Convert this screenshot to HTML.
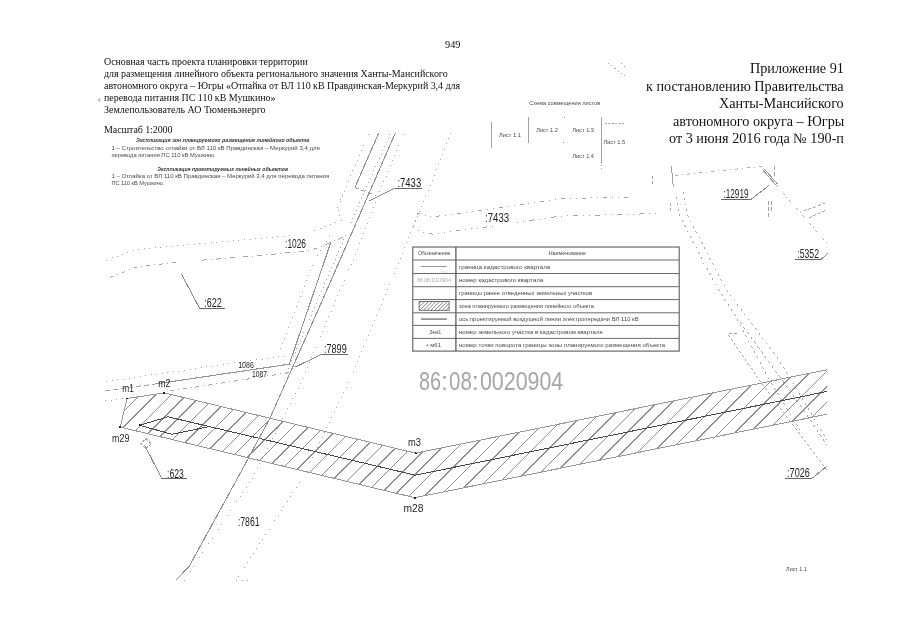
<!DOCTYPE html>
<html><head><meta charset="utf-8"><title>949</title>
<style>
html,body{margin:0;padding:0;background:#fff;}
body{width:905px;height:640px;position:relative;overflow:hidden;font-family:"Liberation Serif",serif;color:#111;}
.t{position:absolute;white-space:nowrap;will-change:transform;}
.l{font-size:10px;line-height:12px;left:103.5px;}
.r{font-size:14.2px;line-height:17.5px;right:61px;text-align:right;}
svg{position:absolute;left:0;top:0;will-change:transform;}
svg text{font-family:"Liberation Sans",sans-serif;}
</style></head><body>

<div class="t" style="left:444.5px;top:38.6px;font-size:10.3px;line-height:12px;">949</div>
<div class="t l" style="top:56.0px;letter-spacing:-0.077px;">Основная часть проекта планировки территории</div>
<div class="t l" style="top:68.1px;letter-spacing:-0.053px;">для размещения линейного объекта регионального значения Ханты-Мансийского</div>
<div class="t l" style="top:80.1px;letter-spacing:-0.043px;">автономного округа – Югры «Отпайка от ВЛ 110 кВ Правдинская-Меркурий 3,4 для</div>
<div class="t l" style="top:92.2px;letter-spacing:-0.03px;">перевода питания ПС 110 кВ Мушкино»</div>
<div class="t l" style="top:104.1px;letter-spacing:0px;">Землепользователь АО Тюменьэнерго</div>
<div class="t l" style="top:123.5px;letter-spacing:-0.1px;">Масштаб 1:2000</div>
<div class="t r" style="top:60.3px;">Приложение 91</div>
<div class="t r" style="top:77.8px;">к постановлению Правительства</div>
<div class="t r" style="top:95.3px;">Ханты-Мансийского</div>
<div class="t r" style="top:112.8px;">автономного округа – Югры</div>
<div class="t r" style="top:130.3px;">от 3 июня 2016 года № 190-п</div>
<svg width="905" height="640" viewBox="0 0 905 640" shape-rendering="crispEdges">
<defs><clipPath id="hz"><polygon points="127.1,398.2 164.4,392.6 415.6,452.9 827.3,369.4 827.3,413.9 414.7,497.4 120.2,426.8"/></clipPath>
<clipPath id="lg"><rect x="419.1" y="301.5" width="30" height="8.8"/></clipPath></defs>
<g transform="translate(0,0.3)">
<g clip-path="url(#hz)" stroke="#8e8e8e" stroke-width="1.1" shape-rendering="crispEdges">
<line x1="-16.1" y1="520" x2="143.9" y2="360"/>
<line x1="-0.7" y1="520" x2="159.3" y2="360"/>
<line x1="14.7" y1="520" x2="174.7" y2="360"/>
<line x1="30.2" y1="520" x2="190.2" y2="360"/>
<line x1="45.6" y1="520" x2="205.6" y2="360"/>
<line x1="61.0" y1="520" x2="221.0" y2="360"/>
<line x1="76.4" y1="520" x2="236.4" y2="360"/>
<line x1="91.8" y1="520" x2="251.8" y2="360"/>
<line x1="107.3" y1="520" x2="267.3" y2="360"/>
<line x1="122.7" y1="520" x2="282.7" y2="360"/>
<line x1="138.1" y1="520" x2="298.1" y2="360"/>
<line x1="153.5" y1="520" x2="313.5" y2="360"/>
<line x1="168.9" y1="520" x2="328.9" y2="360"/>
<line x1="184.4" y1="520" x2="344.4" y2="360"/>
<line x1="199.8" y1="520" x2="359.8" y2="360"/>
<line x1="215.2" y1="520" x2="375.2" y2="360"/>
<line x1="230.6" y1="520" x2="390.6" y2="360"/>
<line x1="246.0" y1="520" x2="406.0" y2="360"/>
<line x1="261.5" y1="520" x2="421.5" y2="360"/>
<line x1="276.9" y1="520" x2="436.9" y2="360"/>
<line x1="292.3" y1="520" x2="452.3" y2="360"/>
<line x1="307.7" y1="520" x2="467.7" y2="360"/>
<line x1="323.1" y1="520" x2="483.1" y2="360"/>
<line x1="338.6" y1="520" x2="498.6" y2="360"/>
<line x1="354.0" y1="520" x2="514.0" y2="360"/>
<line x1="369.4" y1="520" x2="529.4" y2="360"/>
<line x1="384.8" y1="520" x2="544.8" y2="360"/>
<line x1="400.2" y1="520" x2="560.2" y2="360"/>
<line x1="415.7" y1="520" x2="575.7" y2="360"/>
<line x1="431.1" y1="520" x2="591.1" y2="360"/>
<line x1="446.5" y1="520" x2="606.5" y2="360"/>
<line x1="461.9" y1="520" x2="621.9" y2="360"/>
<line x1="477.3" y1="520" x2="637.3" y2="360"/>
<line x1="492.8" y1="520" x2="652.8" y2="360"/>
<line x1="508.2" y1="520" x2="668.2" y2="360"/>
<line x1="523.6" y1="520" x2="683.6" y2="360"/>
<line x1="539.0" y1="520" x2="699.0" y2="360"/>
<line x1="554.4" y1="520" x2="714.4" y2="360"/>
<line x1="569.9" y1="520" x2="729.9" y2="360"/>
<line x1="585.3" y1="520" x2="745.3" y2="360"/>
<line x1="600.7" y1="520" x2="760.7" y2="360"/>
<line x1="616.1" y1="520" x2="776.1" y2="360"/>
<line x1="631.5" y1="520" x2="791.5" y2="360"/>
<line x1="647.0" y1="520" x2="807.0" y2="360"/>
<line x1="662.4" y1="520" x2="822.4" y2="360"/>
<line x1="677.8" y1="520" x2="837.8" y2="360"/>
<line x1="693.2" y1="520" x2="853.2" y2="360"/>
<line x1="708.6" y1="520" x2="868.6" y2="360"/>
<line x1="724.1" y1="520" x2="884.1" y2="360"/>
<line x1="739.5" y1="520" x2="899.5" y2="360"/>
<line x1="754.9" y1="520" x2="914.9" y2="360"/>
<line x1="770.3" y1="520" x2="930.3" y2="360"/>
</g>
<polyline points="827.3,369.4 415.6,452.9 164.4,392.6 127.1,398.2 120.2,426.8 414.7,497.4 827.3,413.9" fill="none" stroke="#969696" stroke-width="1.0" shape-rendering="crispEdges"/>
<polyline points="139.6,425.0 168.0,416.5 415.2,474.9 827.3,391.1" fill="none" stroke="#484848" stroke-width="1.0" shape-rendering="crispEdges"/>
<polyline points="139.6,425.0 172.0,434.0 207.7,426.6" fill="none" stroke="#484848" stroke-width="1.0" shape-rendering="crispEdges"/>
<circle cx="127.1" cy="398.2" r="1.1" fill="#222"/>
<circle cx="164.4" cy="392.6" r="1.1" fill="#222"/>
<circle cx="415.6" cy="452.9" r="1.1" fill="#222"/>
<circle cx="414.7" cy="497.4" r="1.1" fill="#222"/>
<circle cx="120.2" cy="426.8" r="1.1" fill="#222"/>
<circle cx="139.6" cy="425" r="1.1" fill="#222"/>
</g>
<polyline points="378.6,133.3 354.9,187.5" fill="none" stroke="#939393" stroke-width="1.1"/>
<polyline points="395.2,133.3 322.5,300.0 270.1,417.8 242.0,470.0 189.1,566.5 176.0,580.0" fill="none" stroke="#939393" stroke-width="1.1"/>
<polyline points="330.8,242.4 289.3,364.2 157.2,383.7" fill="none" stroke="#939393" stroke-width="1.1"/>
<polyline points="157.2,383.7 105.4,390.8" fill="none" stroke="#9a9a9a" stroke-width="0.9" stroke-dasharray="5 3"/>
<polyline points="354.9,187.5 376.4,195.7" fill="none" stroke="#9a9a9a" stroke-width="0.9" stroke-dasharray="4 3"/>
<polyline points="368.7,134.4 346.6,185.2 337.5,208.3" fill="none" stroke="#9a9a9a" stroke-width="0.9" stroke-dasharray="1 4.6"/>
<polyline points="390.2,133.9 365.4,189.7 334.9,260.0 286.1,373.8" fill="none" stroke="#9a9a9a" stroke-width="0.9" stroke-dasharray="1 3.4"/>
<polyline points="403.5,134.4 379.7,191.9 352.1,262.0 299.3,386.0 253.1,477.1 184.0,580.7" fill="none" stroke="#9a9a9a" stroke-width="0.9" stroke-dasharray="1 4.6"/>
<polyline points="450.7,133.0 431.7,181.5 409.3,236.5 398.9,263.0 347.0,386.0 302.9,477.1 235.9,580.7 250.0,580.7" fill="none" stroke="#9a9a9a" stroke-width="0.9" stroke-dasharray="1 4.6"/>
<polyline points="342.6,194.0 337.5,208.3 341.6,220.5 312.0,231.6" fill="none" stroke="#9a9a9a" stroke-width="0.9" stroke-dasharray="1 4.6"/>
<polyline points="330.0,236.0 314.5,260.0 280.0,349.4" fill="none" stroke="#9a9a9a" stroke-width="0.9" stroke-dasharray="1 4.6"/>
<polyline points="106.4,260.2 134.9,249.5 260.0,238.3 290.8,235.7" fill="none" stroke="#9a9a9a" stroke-width="0.9" stroke-dasharray="1 4.6"/>
<polyline points="109.5,277.3 138.9,266.3 179.6,262.3" fill="none" stroke="#9a9a9a" stroke-width="0.9" stroke-dasharray="4 4 0.9 4"/>
<polyline points="201.9,260.2 260.0,255.6 311.0,250.3 345.6,236.3" fill="none" stroke="#9a9a9a" stroke-width="0.9" stroke-dasharray="5 4 0.9 4"/>
<polyline points="106.4,381.6 238.5,362.3 285.0,356.0" fill="none" stroke="#9a9a9a" stroke-width="0.9" stroke-dasharray="1 4.6"/>
<polyline points="105.4,401.0 125.0,398.0" fill="none" stroke="#9a9a9a" stroke-width="0.9" stroke-dasharray="1 4.6"/>
<polyline points="170.0,391.0 290.0,372.5" fill="none" stroke="#9a9a9a" stroke-width="0.9" stroke-dasharray="4 4 0.9 4"/>
<polyline points="413.2,226.4 417.8,213.3 431.0,217.1 484.7,210.0 561.9,198.8 620.0,197.1 632.7,197.3" fill="none" stroke="#9a9a9a" stroke-width="0.9" stroke-dasharray="1 5 1 5 4 5"/>
<polyline points="413.2,226.4 420.1,231.8 432.5,234.1 482.8,227.4 492.8,226.2" fill="none" stroke="#9a9a9a" stroke-width="0.9" stroke-dasharray="1 5 1 5 1 5 4 5"/>
<polyline points="517.2,222.1 561.9,216.0 620.0,214.6 660.1,213.4" fill="none" stroke="#9a9a9a" stroke-width="0.9" stroke-dasharray="1 5 1 5 5 5"/>
<polyline points="671.3,166.3 673.3,186.6" fill="none" stroke="#9a9a9a" stroke-width="0.9"/>
<polyline points="675.3,175.4 762.7,166.3" fill="none" stroke="#a4a4a4" stroke-width="0.9" stroke-dasharray="3 4 1 4"/>
<polyline points="763.1,170.3 776.0,185.0" fill="none" stroke="#9a9a9a" stroke-width="1.0"/>
<polyline points="764.6,169.3 777.5,184.0" fill="none" stroke="#9a9a9a" stroke-width="1.0"/>
<polyline points="776.0,185.0 828.2,244.5" fill="none" stroke="#a4a4a4" stroke-width="0.9" stroke-dasharray="3 3 1 3"/>
<polyline points="768.2,200.8 768.2,219.1" fill="none" stroke="#9a9a9a" stroke-width="0.9" stroke-dasharray="4 2"/>
<polyline points="771.5,200.8 771.5,212.0" fill="none" stroke="#9a9a9a" stroke-width="0.9" stroke-dasharray="4 2"/>
<polyline points="774.3,166.3 774.3,176.4" fill="none" stroke="#9a9a9a" stroke-width="0.9" stroke-dasharray="4 2"/>
<polyline points="803.8,211.0 826.1,202.8" fill="none" stroke="#9a9a9a" stroke-width="0.9" stroke-dasharray="3 2"/>
<polyline points="808.9,218.1 826.1,209.9" fill="none" stroke="#9a9a9a" stroke-width="0.9" stroke-dasharray="3 2"/>
<polyline points="652.4,176.4 652.4,185.6" fill="none" stroke="#9a9a9a" stroke-width="0.9" stroke-dasharray="3 2"/>
<polyline points="670.7,203.2 670.7,213.0" fill="none" stroke="#9a9a9a" stroke-width="0.9" stroke-dasharray="3 2"/>
<polyline points="676.3,196.7 679.4,215.0 698.3,252.0 716.6,286.6 734.9,315.0 769.4,380.0 800.0,430.0" fill="none" stroke="#9a9a9a" stroke-width="0.9" stroke-dasharray="2 4"/>
<polyline points="683.5,191.7 687.5,215.0 705.4,250.0 726.7,290.6 777.5,357.7 827.0,440.0" fill="none" stroke="#9a9a9a" stroke-width="0.9" stroke-dasharray="2 4"/>
<polyline points="736.9,333.9 727.7,333.9 759.2,380.0 827.0,470.0" fill="none" stroke="#9a9a9a" stroke-width="0.9" stroke-dasharray="2.5 2.5"/>
<polyline points="740.0,322.0 800.0,405.0 827.0,445.0" fill="none" stroke="#9a9a9a" stroke-width="0.9" stroke-dasharray="3 3"/>
<polyline points="608.1,63.4 627.0,77.6" fill="none" stroke="#9a9a9a" stroke-width="0.9" stroke-dasharray="1.5 2.5"/>
<polyline points="621.0,63.4 626.0,67.4" fill="none" stroke="#9a9a9a" stroke-width="0.9" stroke-dasharray="1.5 2.5"/>
<text x="397.4" y="186.7" font-size="11.9" fill="#1e1e1e" font-weight="normal" font-style="normal" textLength="23.8" lengthAdjust="spacingAndGlyphs">:7433</text>
<polyline points="395.0,188.2 421.5,188.2" fill="none" stroke="#666" stroke-width="1.0"/>
<polyline points="395.0,188.2 369.0,201.0" fill="none" stroke="#8a8a8a" stroke-width="1.0"/>
<text x="485.1" y="221.7" font-size="11.9" fill="#1e1e1e" font-weight="normal" font-style="normal" textLength="24.0" lengthAdjust="spacingAndGlyphs">:7433</text>
<text x="285.1" y="247.9" font-size="11.9" fill="#1e1e1e" font-weight="normal" font-style="normal" textLength="20.9" lengthAdjust="spacingAndGlyphs">:1026</text>
<text x="204.3" y="307.4" font-size="11.9" fill="#1e1e1e" font-weight="normal" font-style="normal" textLength="17.5" lengthAdjust="spacingAndGlyphs">:622</text>
<polyline points="199.9,308.8 224.9,308.8" fill="none" stroke="#666" stroke-width="1.0"/>
<polyline points="199.9,308.8 181.6,274.4" fill="none" stroke="#8a8a8a" stroke-width="1.0"/>
<text x="324.0" y="352.7" font-size="11.9" fill="#1e1e1e" font-weight="normal" font-style="normal" textLength="22.7" lengthAdjust="spacingAndGlyphs">:7899</text>
<polyline points="321.5,354.2 347.7,354.2" fill="none" stroke="#666" stroke-width="1.0"/>
<polyline points="321.5,354.2 295.5,367.0" fill="none" stroke="#8a8a8a" stroke-width="1.0"/>
<text x="167.0" y="477.6" font-size="11.9" fill="#1e1e1e" font-weight="normal" font-style="normal" textLength="16.7" lengthAdjust="spacingAndGlyphs">:623</text>
<polyline points="162.0,478.9 187.4,478.9" fill="none" stroke="#666" stroke-width="1.0"/>
<polyline points="162.0,478.9 144.7,445.3" fill="none" stroke="#8a8a8a" stroke-width="1.0"/>
<text x="237.9" y="525.6" font-size="11.9" fill="#1e1e1e" font-weight="normal" font-style="normal" textLength="21.7" lengthAdjust="spacingAndGlyphs">:7861</text>
<text x="723.5" y="198.4" font-size="11.9" fill="#1e1e1e" font-weight="normal" font-style="normal" textLength="25.0" lengthAdjust="spacingAndGlyphs">:12919</text>
<polyline points="720.5,199.9 750.3,199.9" fill="none" stroke="#666" stroke-width="1.0"/>
<polyline points="750.3,199.9 768.8,185.6" fill="none" stroke="#8a8a8a" stroke-width="1.0"/>
<text x="797.3" y="257.8" font-size="11.9" fill="#1e1e1e" font-weight="normal" font-style="normal" textLength="21.7" lengthAdjust="spacingAndGlyphs">:5352</text>
<polyline points="795.2,259.4 821.0,259.4" fill="none" stroke="#666" stroke-width="1.0"/>
<polyline points="821.0,259.4 828.2,253.2" fill="none" stroke="#8a8a8a" stroke-width="1.0"/>
<text x="787.0" y="476.6" font-size="11.9" fill="#1e1e1e" font-weight="normal" font-style="normal" textLength="22.9" lengthAdjust="spacingAndGlyphs">:7026</text>
<polyline points="785.2,478.2 812.3,478.2" fill="none" stroke="#666" stroke-width="1.0"/>
<polyline points="812.3,478.2 827.1,465.9" fill="none" stroke="#8a8a8a" stroke-width="1.0"/>
<text x="238.2" y="368.4" font-size="9.3" fill="#1e1e1e" font-weight="normal" font-style="normal" textLength="15.6" lengthAdjust="spacingAndGlyphs">1086</text>
<text x="252.0" y="377.2" font-size="9.3" fill="#1e1e1e" font-weight="normal" font-style="normal" textLength="15.0" lengthAdjust="spacingAndGlyphs">1087</text>
<text x="122.3" y="391.8" font-size="10.5" fill="#1e1e1e" font-weight="normal" font-style="normal" textLength="11.5" lengthAdjust="spacingAndGlyphs">m1</text>
<text x="158.2" y="386.7" font-size="10.5" fill="#1e1e1e" font-weight="normal" font-style="normal" textLength="12.2" lengthAdjust="spacingAndGlyphs">m2</text>
<text x="112.1" y="442.2" font-size="10.5" fill="#1e1e1e" font-weight="normal" font-style="normal" textLength="17.3" lengthAdjust="spacingAndGlyphs">m29</text>
<text x="408.0" y="445.5" font-size="10.5" fill="#1e1e1e" font-weight="normal" font-style="normal" textLength="13.0" lengthAdjust="spacingAndGlyphs">m3</text>
<text x="403.5" y="511.5" font-size="10.5" fill="#1e1e1e" font-weight="normal" font-style="normal" textLength="20.0" lengthAdjust="spacingAndGlyphs">m28</text>
<polygon points="146,438.6 151.3,443.6 146,448.6 140.7,443.6" fill="none" stroke="#a8a8a8" stroke-width="1" stroke-dasharray="3 1"/>
<text x="418.9" y="389.8" font-size="25.4" fill="#a6a6a6" font-weight="normal" font-style="normal" textLength="22.1" lengthAdjust="spacingAndGlyphs">86</text>
<text x="449.0" y="389.8" font-size="25.4" fill="#a6a6a6" font-weight="normal" font-style="normal" textLength="22.8" lengthAdjust="spacingAndGlyphs">08</text>
<text x="479.9" y="389.8" font-size="25.4" fill="#a6a6a6" font-weight="normal" font-style="normal" textLength="83.4" lengthAdjust="spacingAndGlyphs">0020904</text>
<text x="444.6" y="389.8" font-size="25.4" fill="#a6a6a6" text-anchor="middle">:</text>
<text x="475.4" y="389.8" font-size="25.4" fill="#a6a6a6" text-anchor="middle">:</text>
<g shape-rendering="geometricPrecision">
<rect x="412.8" y="247.0" width="266.40000000000003" height="104.10000000000002" fill="#fff" stroke="#5c5c5c" stroke-width="1.1"/>
<line x1="412.8" y1="260.0" x2="679.2" y2="260.0" stroke="#626262" stroke-width="0.95"/>
<line x1="412.8" y1="273.5" x2="679.2" y2="273.5" stroke="#626262" stroke-width="0.95"/>
<line x1="412.8" y1="286.7" x2="679.2" y2="286.7" stroke="#626262" stroke-width="0.95"/>
<line x1="412.8" y1="299.6" x2="679.2" y2="299.6" stroke="#626262" stroke-width="0.95"/>
<line x1="412.8" y1="312.8" x2="679.2" y2="312.8" stroke="#626262" stroke-width="0.95"/>
<line x1="412.8" y1="325.4" x2="679.2" y2="325.4" stroke="#626262" stroke-width="0.95"/>
<line x1="412.8" y1="338.4" x2="679.2" y2="338.4" stroke="#626262" stroke-width="0.95"/>
<line x1="455.9" y1="247.0" x2="455.9" y2="351.1" stroke="#555" stroke-width="1.25"/>
<text x="418.0" y="255.4" font-size="5.6" fill="#484848" font-weight="normal" font-style="normal" textLength="32.5" lengthAdjust="spacingAndGlyphs">Обозначение</text>
<text x="548.7" y="255.4" font-size="5.6" fill="#484848" font-weight="normal" font-style="normal" textLength="37.2" lengthAdjust="spacingAndGlyphs">Наименование</text>
<text x="459.0" y="268.6" font-size="5.6" fill="#484848" font-weight="normal" font-style="normal" textLength="91.3" lengthAdjust="spacingAndGlyphs">граница кадастрового квартала</text>
<text x="459.0" y="282.0" font-size="5.6" fill="#484848" font-weight="normal" font-style="normal" textLength="84.4" lengthAdjust="spacingAndGlyphs">номер кадастрового квартала</text>
<text x="459.0" y="295.0" font-size="5.6" fill="#484848" font-weight="normal" font-style="normal" textLength="133.2" lengthAdjust="spacingAndGlyphs">границы ранее отведенных земельных участков</text>
<text x="459.0" y="308.1" font-size="5.6" fill="#484848" font-weight="normal" font-style="normal" textLength="134.9" lengthAdjust="spacingAndGlyphs">зона планируемого размещения линейного объекта</text>
<text x="459.0" y="321.0" font-size="5.6" fill="#484848" font-weight="normal" font-style="normal" textLength="179.6" lengthAdjust="spacingAndGlyphs">ось проектируемой воздушной линии электропередачи ВЛ 110 кВ</text>
<text x="459.0" y="333.8" font-size="5.6" fill="#484848" font-weight="normal" font-style="normal" textLength="143.8" lengthAdjust="spacingAndGlyphs">номер земельного участка в кадастровом квартале</text>
<text x="459.0" y="346.6" font-size="5.6" fill="#484848" font-weight="normal" font-style="normal" textLength="206.2" lengthAdjust="spacingAndGlyphs">номер точки поворота границы зоны планируемого размещения объекта</text>
<polyline points="420.9,266.5 446.6,266.5" fill="none" stroke="#888" stroke-width="0.9"/>
<polyline points="441.6,272.0 448.5,272.0" fill="none" stroke="#999" stroke-width="0.8" stroke-dasharray="0.9 1.6"/>
<text x="417.0" y="282.0" font-size="5.4" fill="#aaa" font-weight="normal" font-style="normal" textLength="34.0" lengthAdjust="spacingAndGlyphs">86:08:1020904</text>
<g clip-path="url(#lg)" stroke="#666" stroke-width="0.8">
<line x1="411.5" y1="311" x2="421.5" y2="301"/>
<line x1="415.2" y1="311" x2="425.2" y2="301"/>
<line x1="419.0" y1="311" x2="429.0" y2="301"/>
<line x1="422.8" y1="311" x2="432.8" y2="301"/>
<line x1="426.5" y1="311" x2="436.5" y2="301"/>
<line x1="430.2" y1="311" x2="440.2" y2="301"/>
<line x1="434.0" y1="311" x2="444.0" y2="301"/>
<line x1="437.8" y1="311" x2="447.8" y2="301"/>
<line x1="441.5" y1="311" x2="451.5" y2="301"/>
<line x1="445.2" y1="311" x2="455.2" y2="301"/>
<line x1="449.0" y1="311" x2="459.0" y2="301"/>
<line x1="452.8" y1="311" x2="462.8" y2="301"/>
</g>
<rect x="419.1" y="301.5" width="30" height="8.8" fill="none" stroke="#555" stroke-width="0.8"/>
<polyline points="421.0,319.1 447.0,319.1" fill="none" stroke="#777" stroke-width="1.4"/>
<text x="428.5" y="333.8" font-size="5.4" fill="#484848" font-weight="normal" font-style="normal" textLength="12.5" lengthAdjust="spacingAndGlyphs">:Зем1</text>
<text x="426.5" y="346.6" font-size="5.4" fill="#484848" font-weight="normal" font-style="normal" textLength="14.5" lengthAdjust="spacingAndGlyphs">• м61</text>
</g>
<text x="529.2" y="105.2" font-size="5.6" fill="#484848" font-weight="normal" font-style="normal" textLength="71.0" lengthAdjust="spacingAndGlyphs">Схема совмещения листов</text>
<polyline points="491.7,122.2 491.7,147.5" fill="none" stroke="#999" stroke-width="0.9"/>
<polyline points="528.6,117.4 528.6,142.7" fill="none" stroke="#999" stroke-width="0.9"/>
<polyline points="601.6,117.4 601.6,161.6" fill="none" stroke="#999" stroke-width="0.9"/>
<polyline points="601.6,161.6 601.6,169.0" fill="none" stroke="#9a9a9a" stroke-width="0.9" stroke-dasharray="0.9 2.5"/>
<polyline points="604.6,123.2 625.0,123.2" fill="none" stroke="#9a9a9a" stroke-width="0.9" stroke-dasharray="2 1.5"/>
<circle cx="564.5" cy="117.6" r="0.5" fill="#888"/><circle cx="563.7" cy="142.7" r="0.5" fill="#888"/>
<text x="499.1" y="137.0" font-size="5.6" fill="#484848" font-weight="normal" font-style="normal" textLength="21.9" lengthAdjust="spacingAndGlyphs">Лист 1.1</text>
<text x="536.2" y="132.0" font-size="5.6" fill="#484848" font-weight="normal" font-style="normal" textLength="21.6" lengthAdjust="spacingAndGlyphs">Лист 1.2</text>
<text x="572.3" y="132.0" font-size="5.6" fill="#484848" font-weight="normal" font-style="normal" textLength="21.7" lengthAdjust="spacingAndGlyphs">Лист 1.3</text>
<text x="572.3" y="157.9" font-size="5.6" fill="#484848" font-weight="normal" font-style="normal" textLength="21.7" lengthAdjust="spacingAndGlyphs">Лист 1.4</text>
<text x="603.4" y="144.1" font-size="5.6" fill="#484848" font-weight="normal" font-style="normal" textLength="21.9" lengthAdjust="spacingAndGlyphs">Лист 1.5</text>
<text x="786.1" y="570.6" font-size="5.6" fill="#484848" font-weight="normal" font-style="normal" textLength="20.8" lengthAdjust="spacingAndGlyphs">Лист 1.1</text>
<circle cx="826.5" cy="580" r="0.5" fill="#888"/>
<text x="136.1" y="142.0" font-size="5.6" fill="#333" font-weight="bold" font-style="italic" textLength="173.2" lengthAdjust="spacingAndGlyphs">Экспликация зон планируемого размещения линейного объекта</text>
<text x="111.4" y="150.0" font-size="5.6" fill="#484848" font-weight="normal" font-style="normal" textLength="208.5" lengthAdjust="spacingAndGlyphs">1 – Строительство отпайки от ВЛ 110 кВ Правдинская – Меркурий 3,4 для</text>
<text x="111.4" y="156.9" font-size="5.6" fill="#484848" font-weight="normal" font-style="normal" textLength="102.9" lengthAdjust="spacingAndGlyphs">перевода питания ПС 110 кВ Мушкино</text>
<text x="157.3" y="170.7" font-size="5.6" fill="#333" font-weight="bold" font-style="italic" textLength="130.7" lengthAdjust="spacingAndGlyphs">Экспликация проектируемых линейных объектов</text>
<text x="111.4" y="177.8" font-size="5.6" fill="#484848" font-weight="normal" font-style="normal" textLength="217.8" lengthAdjust="spacingAndGlyphs">1 – Отпайка от ВЛ 110 кВ Правдинская – Меркурий 3,4 для перевода питания</text>
<text x="111.4" y="185.2" font-size="5.6" fill="#484848" font-weight="normal" font-style="normal" textLength="53.1" lengthAdjust="spacingAndGlyphs">ПС 110 кВ Мушкино.</text>
<text x="97.5" y="101.5" font-size="5" fill="#999" font-weight="normal" font-style="normal" textLength="5.0" lengthAdjust="spacingAndGlyphs">4.</text>
</svg>
</body></html>
